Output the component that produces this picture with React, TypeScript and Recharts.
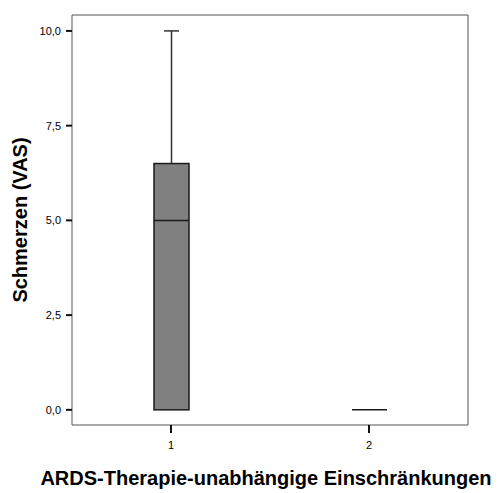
import { ComposedChart, Bar, XAxis, YAxis, Label } from "recharts";

const categories = ["1", "2"];
const minValues = [0, 0];
const q1Values = [0, 0];
const medianValues = [5, 0];
const q3Values = [6.5, 0];
const maxValues = [10, 0];
const yTicks = [0, 2.5, 5, 7.5, 10];

const data = categories.map((name, i) => ({
  name,
  min: minValues[i],
  q1: q1Values[i],
  median: medianValues[i],
  q3: q3Values[i],
  max: maxValues[i],
}));

const fmt = (v: number) => v.toFixed(1).replace(".", ",");

function BoxShape(props: any) {
  const { x, y, width, height, payload } = props;
  const top = Math.min(y, y + height);
  const bottom = Math.max(y, y + height);
  const span = payload.max - payload.min;
  const toPx = (v: number) => (span === 0 ? top : top + ((bottom - top) * (payload.max - v)) / span);
  const cx = x + width / 2;
  const capW = 15;
  const yMax = toPx(payload.max);
  const yQ3 = toPx(payload.q3);
  const yMed = toPx(payload.median);
  const yQ1 = toPx(payload.q1);
  const yMin = toPx(payload.min);
  return (
    <g>
      {payload.max > payload.q3 && (
        <g stroke="#333" strokeWidth={1.5}>
          <line x1={cx} x2={cx} y1={yMax} y2={yQ3} />
          <line x1={cx - capW / 2} x2={cx + capW / 2} y1={yMax} y2={yMax} />
        </g>
      )}
      {payload.min < payload.q1 && (
        <g stroke="#333" strokeWidth={1.5}>
          <line x1={cx} x2={cx} y1={yQ1} y2={yMin} />
          <line x1={cx - capW / 2} x2={cx + capW / 2} y1={yMin} y2={yMin} />
        </g>
      )}
      {yQ1 > yQ3 ? (
        <rect x={x} y={yQ3} width={width} height={yQ1 - yQ3} fill="#808080" stroke="#1a1a1a" strokeWidth={1.5} />
      ) : (
        <line x1={x} x2={x + width} y1={yQ1} y2={yQ1} stroke="#1a1a1a" strokeWidth={1.5} />
      )}
      {yQ1 > yQ3 && <line x1={x} x2={x + width} y1={yMed} y2={yMed} stroke="#1a1a1a" strokeWidth={1.5} />}
    </g>
  );
}

export default function App() {
  return (
    <div style={{ position: "absolute", left: 0, top: 0, background: "#fff" }}>
      <ComposedChart
        width={499}
        height={493}
        data={data}
        margin={{ top: 14, right: 30, bottom: 38, left: 14 }}
        style={{ fontFamily: "'Liberation Sans', Arial, sans-serif" }}
      >
        <XAxis
          dataKey="name"
          axisLine={{ stroke: "#555", strokeWidth: 1 }}
          tickLine={{ stroke: "#111", strokeWidth: 2 }}
          tickSize={8}
          tickMargin={8}
          height={30}
          tick={{ fontSize: 11, fill: "#000" }}
        >
          <Label
            value="ARDS-Therapie-unabhängige Einschränkungen"
            position="bottom"
            offset={16}
            dx={-4}
            style={{ fontSize: 20, fontWeight: "bold", fill: "#000" }}
          />
        </XAxis>
        <XAxis
          xAxisId="top"
          dataKey="name"
          orientation="top"
          height={1}
          tick={false}
          tickLine={false}
          axisLine={{ stroke: "#555", strokeWidth: 1 }}
        />
        <YAxis
          type="number"
          domain={[-0.4, 10.42]}
          ticks={yTicks}
          tickFormatter={fmt}
          width={58}
          axisLine={{ stroke: "#555", strokeWidth: 1 }}
          tickLine={{ stroke: "#111", strokeWidth: 2 }}
          tickSize={6}
          tickMargin={5}
          tick={{ fontSize: 11, fill: "#000" }}
        >
          <Label
            value="Schmerzen (VAS)"
            angle={-90}
            position="insideLeft"
            offset={6}
            style={{ fontSize: 20, fontWeight: "bold", fill: "#000", textAnchor: "middle" }}
          />
        </YAxis>
        <YAxis
          yAxisId="right"
          orientation="right"
          width={1}
          tick={false}
          tickLine={false}
          axisLine={{ stroke: "#555", strokeWidth: 1 }}
        />
        <Bar
          dataKey={(d: any) => [d.min, d.max]}
          barSize={35}
          shape={BoxShape}
          isAnimationActive={false}
        />
        <Bar xAxisId="top" yAxisId="right" dataKey="q1" fill="none" isAnimationActive={false} />
      </ComposedChart>
    </div>
  );
}
